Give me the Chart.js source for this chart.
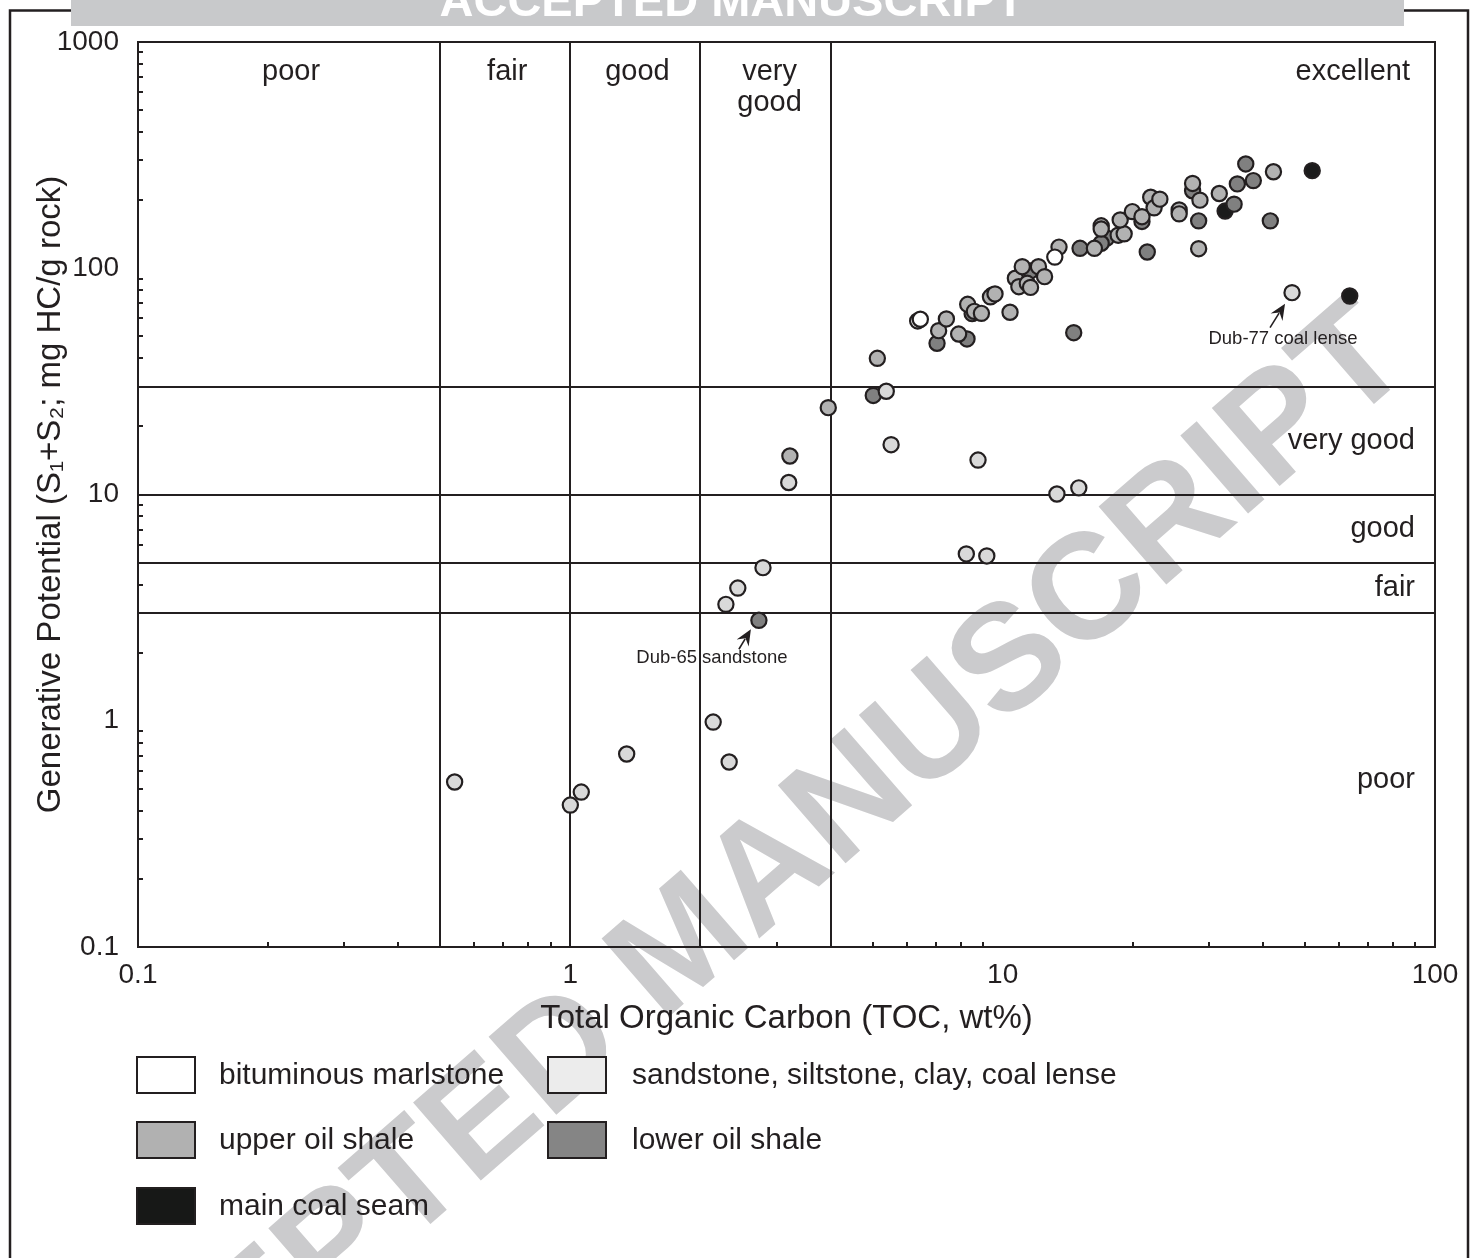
<!DOCTYPE html>
<html>
<head>
<meta charset="utf-8">
<title>Generative potential vs TOC</title>
<script src="https://cdn.jsdelivr.net/npm/chart.js@4.4.1/dist/chart.umd.min.js"></script>
<style>
  html, body { margin: 0; padding: 0; background: #fff; overflow: hidden; }
  canvas { display: block; }
</style>
</head>
<body>
<canvas id="c" width="1478" height="1258"></canvas>
<script>
// ---- data -------------------------------------------------------------
const seriesNames = [
  'bituminous marlstone',
  'sandstone, siltstone, clay, coal lense',
  'upper oil shale',
  'lower oil shale',
  'main coal seam'
];

// TOC (wt%) and S1+S2 (mg HC/g rock) per lithology
const marlstoneTOC = [6.36, 6.45, 13.2];
const marlstoneGP  = [58.5, 59.5, 112];

const clasticTOC = [0.54, 1.00, 1.06, 1.35, 2.14, 2.33, 2.29, 2.44, 2.79, 3.20, 5.38, 5.52, 8.24, 8.77, 9.19, 13.35, 15.0, 46.7];
const clasticGP  = [0.536, 0.424, 0.484, 0.713, 0.987, 0.657, 3.27, 3.86, 4.75, 11.3, 28.6, 16.6, 5.46, 14.2, 5.35, 10.05, 10.7, 78];

const upperTOC = [3.22, 3.95, 5.13, 7.11, 7.41, 7.91, 8.30, 8.6, 8.93, 9.37, 9.6, 10.4, 10.7, 10.9, 11.1, 11.4, 11.6, 12.1, 12.5, 13.5, 16.3, 16.9, 16.9, 18.5, 19.1, 18.7, 19.95, 21.0, 22.0, 22.4, 23.1, 25.6, 25.6, 27.5, 28.6, 28.4, 31.7, 42.3];
const upperGP  = [14.8, 24.2, 40.0, 53.0, 59.7, 51.2, 69.3, 64.5, 63.2, 74.8, 77, 63.9, 90.3, 82.9, 101.6, 85.8, 82.3, 101.6, 91.8, 124, 122.5, 154, 149, 140, 142, 163.5, 178, 169, 206, 185, 202, 181, 174, 237, 200, 122, 214, 267];

const lowerTOC = [2.73, 5.02, 7.05, 8.27, 8.5, 9.48, 11.6, 14.6, 15.1, 17.4, 16.9, 21.6, 21.0, 27.5, 28.4, 34.3, 34.9, 36.5, 38.0, 41.6];
const lowerGP  = [2.78, 27.4, 46.6, 48.7, 63, 76.2, 97.3, 51.9, 122.5, 136, 129, 118, 161, 220, 162, 192, 236, 289, 244, 162];

const coalTOC = [32.7, 52.0, 63.5];
const coalGP  = [179, 270, 75.4];

// axis ticks
const xTickValues = [0.1, 1, 10, 100];
const xTickLabels = ['0.1', '1', '10', '100'];
const yTickValues = [0.1, 1, 10, 100, 1000];
const yTickLabels = ['0.1', '1', '10', '100', '1000'];

// class boundaries
const tocLimits = [0.5, 1, 2, 4];
const gpLimits  = [30, 10, 5, 3];

// class names
const tocClasses = ['poor', 'fair', 'good', 'very\ngood', 'excellent'];
const gpClasses  = ['very good', 'good', 'fair', 'poor'];

// labelled samples
const callouts = [
  { text: 'Dub-65 sandstone', toc: 2.73, gp: 2.78 },
  { text: 'Dub-77 coal lense', toc: 46.7, gp: 78 }
];

const xTitle = 'Total Organic Carbon (TOC, wt%)';
const yTitle = 'Generative Potential (S\u2081+S\u2082; mg HC/g rock)';
const stampText = 'ACCEPTED MANUSCRIPT';

// ---- styling ----------------------------------------------------------
const FONT = "'Liberation Sans', Arial, Helvetica, sans-serif";
const INK = '#231f20';
const markerFill = ['#ffffff', '#d9d9d9', '#b2b2b2', '#808080', '#1b1b1b'];
const legendFill = ['#ffffff', '#ececec', '#b1b1b1', '#858585', '#171817'];

const pairs = (xs, ys) => xs.map((v, i) => ({ x: v, y: ys[i] }));
const seriesData = [
  pairs(marlstoneTOC, marlstoneGP),
  pairs(clasticTOC, clasticGP),
  pairs(upperTOC, upperGP),
  pairs(lowerTOC, lowerGP),
  pairs(coalTOC, coalGP)
];

const datasets = seriesNames.map((name, i) => ({
  label: name,
  data: seriesData[i],
  backgroundColor: markerFill[i],
  borderColor: INK,
  borderWidth: 2.2,
  pointRadius: 7.6,
  pointHoverRadius: 7.6,
  showLine: false
}));

function line(ctx, x1, y1, x2, y2) {
  ctx.beginPath();
  ctx.moveTo(x1, y1);
  ctx.lineTo(x2, y2);
  ctx.stroke();
}

const sourceRockPlot = {
  id: 'sourceRockPlot',
  beforeDraw(chart) {
    const ctx = chart.ctx;
    ctx.save();
    ctx.fillStyle = '#ffffff';
    ctx.fillRect(0, 0, chart.width, chart.height);
    // diagonal stamp behind the figure
    ctx.translate(685, 948);
    ctx.rotate(-41 * Math.PI / 180);
    ctx.font = `bold 150px ${FONT}`;
    ctx.fillStyle = '#cbcbcd';
    ctx.textAlign = 'center';
    ctx.textBaseline = 'middle';
    ctx.fillText(stampText, 0, 0);
    ctx.restore();
  },
  beforeDatasetsDraw(chart) {
    const { ctx, chartArea: a, scales: { x, y } } = chart;
    ctx.save();
    ctx.strokeStyle = INK;
    ctx.lineWidth = 2;
    ctx.lineCap = 'butt';
    tocLimits.forEach(v => {
      const px = Math.round(x.getPixelForValue(v));
      line(ctx, px, a.top, px, a.bottom);
    });
    gpLimits.forEach(v => {
      const py = Math.round(y.getPixelForValue(v));
      line(ctx, a.left, py, a.right, py);
    });
    // minor ticks, pointing into the plot
    const tick = 5;
    for (let e = -1; e <= 1; e++) {
      for (let m = 2; m <= 9; m++) {
        const px = Math.round(x.getPixelForValue(m * Math.pow(10, e)));
        line(ctx, px, a.bottom, px, a.bottom - tick);
      }
    }
    for (let e = -1; e <= 2; e++) {
      for (let m = 2; m <= 9; m++) {
        const py = Math.round(y.getPixelForValue(m * Math.pow(10, e)));
        line(ctx, a.left, py, a.left + tick, py);
      }
    }
    ctx.strokeRect(a.left, a.top, a.right - a.left, a.bottom - a.top);
    ctx.restore();
  },
  afterDraw(chart) {
    const { ctx, chartArea: a, scales: { x, y } } = chart;
    ctx.save();
    ctx.fillStyle = INK;
    ctx.textBaseline = 'middle';

    // TOC classes along the top
    ctx.font = `29px ${FONT}`;
    const bounds = [x.min].concat(tocLimits);
    ctx.textAlign = 'center';
    for (let i = 0; i < 4; i++) {
      const cx = x.getPixelForValue(Math.sqrt(bounds[i] * bounds[i + 1]));
      tocClasses[i].split('\n').forEach((t, k) => ctx.fillText(t, cx + (i === 3 ? 4 : 2), a.top + 30 + k * 31));
    }
    ctx.textAlign = 'right';
    ctx.fillText(tocClasses[4], a.right - 25, a.top + 30);

    // S1+S2 classes on the right
    const gb = [y.max].concat(gpLimits).concat([y.min]);
    for (let i = 0; i < 4; i++) {
      const hi = gb[i + 1], lo = gb[i + 2];
      const cy = y.getPixelForValue(Math.sqrt(hi * lo));
      ctx.fillText(gpClasses[i], a.right - 20, cy);
    }

    // callouts with arrows
    ctx.font = `18.5px ${FONT}`;
    ctx.textAlign = 'center';
    const offs = [
      { tx: -47, ty: 38, ax: -20, ay: 29, hx: -8, hy: 9 },
      { tx: -9, ty: 46, ax: -22, ay: 35, hx: -7, hy: 11 }
    ];
    callouts.forEach((c, i) => {
      const px = x.getPixelForValue(c.toc), py = y.getPixelForValue(c.gp);
      const o = offs[i];
      ctx.fillStyle = INK;
      ctx.fillText(c.text, px + o.tx, py + o.ty);
      const x1 = px + o.ax, y1 = py + o.ay, x2 = px + o.hx, y2 = py + o.hy;
      const ang = Math.atan2(y2 - y1, x2 - x1);
      const hl = 16, hw = 7;
      ctx.strokeStyle = INK;
      ctx.lineWidth = 1.6;
      line(ctx, x1, y1, x2 - hl * 0.7 * Math.cos(ang), y2 - hl * 0.7 * Math.sin(ang));
      ctx.beginPath();
      ctx.moveTo(x2, y2);
      ctx.lineTo(x2 - hl * Math.cos(ang) + hw * Math.sin(ang), y2 - hl * Math.sin(ang) - hw * Math.cos(ang));
      ctx.lineTo(x2 - hl * 0.65 * Math.cos(ang), y2 - hl * 0.65 * Math.sin(ang));
      ctx.lineTo(x2 - hl * Math.cos(ang) - hw * Math.sin(ang), y2 - hl * Math.sin(ang) + hw * Math.cos(ang));
      ctx.closePath();
      ctx.fill();
    });

    // legend: two columns
    const slots = [
      { bx: 137, by: 1057 },  // bituminous marlstone
      { bx: 548, by: 1057 },  // sandstone...
      { bx: 137, by: 1122 },  // upper oil shale
      { bx: 548, by: 1122 },  // lower oil shale
      { bx: 137, by: 1188 }   // main coal seam
    ];
    ctx.font = `30px ${FONT}`;
    ctx.textAlign = 'left';
    chart.data.datasets.forEach((ds, i) => {
      const s = slots[i];
      ctx.fillStyle = legendFill[i];
      ctx.fillRect(s.bx, s.by, 58, 36);
      ctx.strokeStyle = INK;
      ctx.lineWidth = 2;
      ctx.strokeRect(s.bx, s.by, 58, 36);
      ctx.fillStyle = INK;
      ctx.fillText(ds.label, s.bx + (i % 2 ? 84 : 82), s.by + 19);
    });

    // page frame
    ctx.strokeStyle = INK;
    ctx.lineWidth = 2.5;
    ctx.strokeRect(10, 10.5, 1458, 1270);

    // banner
    ctx.fillStyle = '#c8c9cb';
    ctx.fillRect(71, 0, 1333, 26);
    ctx.fillStyle = '#ffffff';
    ctx.font = `bold 47px ${FONT}`;
    ctx.textAlign = 'center';
    ctx.textBaseline = 'alphabetic';
    ctx.fillText(stampText, 732, 16);
    ctx.restore();
  }
};

new Chart(document.getElementById('c'), {
  type: 'scatter',
  data: { datasets },
  options: {
    responsive: false,
    animation: false,
    devicePixelRatio: 1,
    layout: { padding: { left: 0, right: 43, top: 42, bottom: 0 } },
    plugins: { legend: { display: false }, tooltip: { enabled: false } },
    scales: {
      x: {
        type: 'logarithmic',
        position: 'bottom',
        min: 0.1,
        max: 100,
        afterBuildTicks: s => { s.ticks = xTickValues.map(v => ({ value: v })); },
        afterFit: s => { s.height = 311; },
        grid: { display: false, drawTicks: false },
        border: { display: false },
        ticks: {
          autoSkip: false,
          maxRotation: 0,
          padding: 11,
          color: INK,
          font: { family: FONT, size: 28 },
          callback: (v, i) => xTickLabels[i]
        },
        title: {
          display: true,
          text: xTitle,
          color: INK,
          font: { family: FONT, size: 33 },
          padding: { top: 0, bottom: 219 }
        }
      },
      y: {
        type: 'logarithmic',
        position: 'left',
        min: 0.1,
        max: 1000,
        afterBuildTicks: s => { s.ticks = yTickValues.map(v => ({ value: v })); },
        afterFit: s => { s.width = 138; },
        grid: { display: false, drawTicks: false },
        border: { display: false },
        ticks: {
          autoSkip: false,
          padding: 19,
          color: INK,
          font: { family: FONT, size: 28 },
          callback: (v, i) => yTickLabels[i]
        },
        title: {
          display: true,
          text: yTitle,
          color: INK,
          font: { family: FONT, size: 33 },
          padding: { top: 31, bottom: 0 }
        }
      }
    }
  },
  plugins: [sourceRockPlot]
});
</script>
</body>
</html>
